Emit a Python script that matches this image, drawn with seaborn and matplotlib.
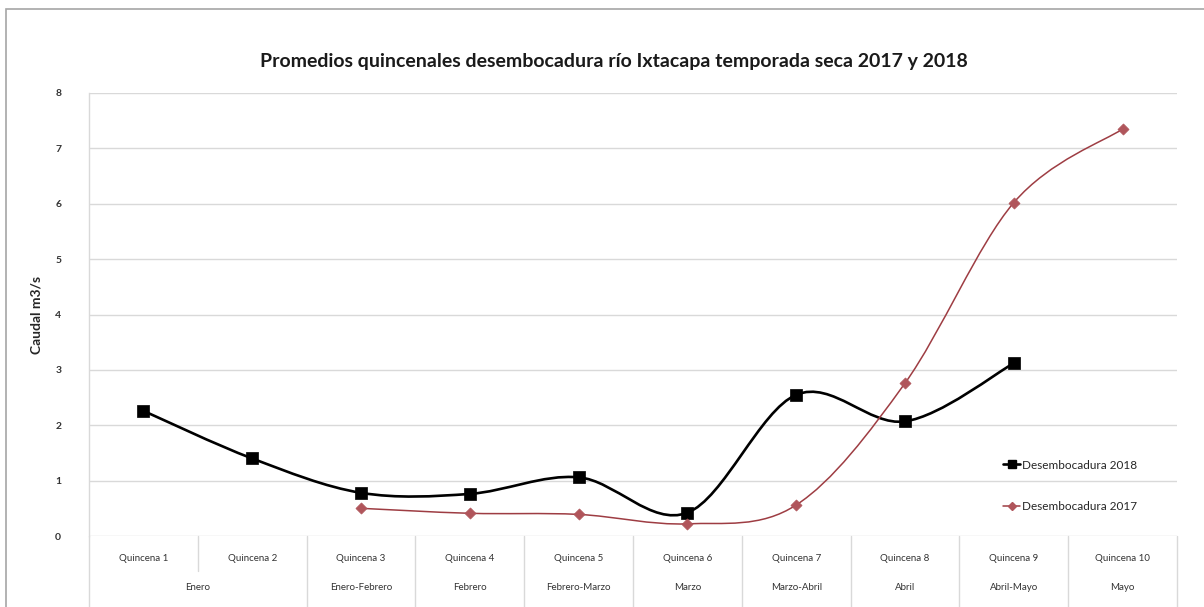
import numpy as np
import pandas as pd
import matplotlib
matplotlib.use('Agg')
import matplotlib.pyplot as plt
import seaborn as sns
from matplotlib.path import Path
from matplotlib.patches import PathPatch, Rectangle
from matplotlib.lines import Line2D
import matplotlib.transforms as mtransforms

# data
quincenas = ['Quincena 1', 'Quincena 2', 'Quincena 3', 'Quincena 4', 'Quincena 5',
             'Quincena 6', 'Quincena 7', 'Quincena 8', 'Quincena 9', 'Quincena 10']
meses = ['Enero', 'Enero', 'Enero-Febrero', 'Febrero', 'Febrero-Marzo',
         'Marzo', 'Marzo-Abril', 'Abril', 'Abril-Mayo', 'Mayo']
caudal_2018 = [2.26, 1.40, 0.78, 0.76, 1.06, 0.42, 2.55, 2.07, 3.12, np.nan]
caudal_2017 = [np.nan, np.nan, 0.50, 0.41, 0.39, 0.22, 0.56, 2.76, 6.02, 7.35]

sns.set_theme(style='whitegrid')
plt.rcParams['font.family'] = ['Lato', 'DejaVu Sans']


def smooth_path(xs, ys):
    """Excel-like smoothed line: cubic bezier through every point"""
    pts = np.column_stack([xs, ys])
    n = len(pts)
    verts = [pts[0]]
    codes = [Path.MOVETO]
    for i in range(n - 1):
        p0 = pts[i - 1] if i > 0 else pts[i]
        p1, p2 = pts[i], pts[i + 1]
        p3 = pts[i + 2] if i + 2 < n else pts[i + 1]
        verts += [p1 + (p2 - p0) / 6, p2 - (p3 - p1) / 6, p2]
        codes += [Path.CURVE4] * 3
    return Path(verts, codes)


df = pd.DataFrame({'x': np.arange(len(quincenas)), 'q': quincenas, 'mes': meses,
                   'd2018': caudal_2018, 'd2017': caudal_2017})

fig = plt.figure(figsize=(12.04, 6.07), dpi=100)
fig.patch.set_facecolor('white')
fig.patches.append(Rectangle((6 / 1204, -0.1), 1.2, 1 - 9 / 607 + 0.1, transform=fig.transFigure,
                             fill=False, edgecolor='#a6a6a6', linewidth=1.2))
ax = fig.add_axes([89 / 1204, 1 - 536 / 607, (1177 - 89) / 1204, (536 - 93) / 607])

c18 = 'black'
c17 = '#9e3d43'
m17 = '#b0555b'
for col, color, mcol, lw, mk, ms in [('d2018', c18, c18, 1.9, 's', 85), ('d2017', c17, m17, 1.1, 'D', 32)]:
    sub = df.dropna(subset=[col])
    ax.add_patch(PathPatch(smooth_path(sub['x'].values, sub[col].values), fill=False,
                           edgecolor=color, linewidth=lw, zorder=3))
    sns.scatterplot(data=sub, x='x', y=col, marker=mk, s=ms, color=mcol,
                    edgecolor=mcol, linewidth=0.5, ax=ax, zorder=4)

ax.set_xlim(-0.5, 9.5)
ax.set_ylim(0, 8)
ax.set_yticks(range(0, 9))
ax.set_xticks([])
ax.set_xlabel('')
ax.set_ylabel('Caudal m3/s', fontsize=10, fontweight='bold', labelpad=9, color='#262626')
ax.tick_params(axis='y', labelsize=7.5, pad=14, colors='#333333')
for t in ax.get_yticklabels():
    t.set_fontweight('bold')
ax.grid(axis='y', color='#d9d9d9', linewidth=1)
ax.grid(axis='x', visible=False)
for s in ['top', 'right', 'bottom']:
    ax.spines[s].set_visible(False)
ax.spines['left'].set_color('#d9d9d9')
ax.spines['left'].set_linewidth(1)

# two level category axis
trans = mtransforms.blended_transform_factory(ax.transData, ax.transAxes)
for i, q in enumerate(quincenas):
    ax.text(i, -0.05, q, transform=trans, ha='center', va='center', fontsize=7, color='#333333')
group_start = 0
for i in range(len(meses)):
    if i == len(meses) - 1 or meses[i + 1] != meses[i]:
        ax.text((group_start + i) / 2, -0.117, meses[i], transform=trans, ha='center', va='center',
                fontsize=7, color='#333333')
        group_start = i + 1
for i in range(len(meses) + 1):
    same = 0 < i < len(meses) and meses[i] == meses[i - 1]
    ax.plot([i - 0.5, i - 0.5], [0, -0.078 if same else -0.17], transform=trans, color='#d9d9d9',
            linewidth=1, clip_on=False)

fig.text(614 / 1204, 1 - 62 / 607, 'Promedios quincenales desembocadura río Ixtacapa temporada seca 2017 y 2018',
         ha='center', va='center', fontsize=14, fontweight='bold', color='#1a1a1a')

handles = [Line2D([], [], color=c18, lw=1.9, marker='s', markersize=6),
           Line2D([], [], color=c17, lw=1.1, marker='D', markersize=4.5, markerfacecolor=m17,
                  markeredgecolor=m17)]
ax.legend(handles, ['Desembocadura 2018', 'Desembocadura 2017'], loc='center left',
          bbox_to_anchor=(0.83, 0.113), frameon=False, fontsize=8.5, handlelength=1.5,
          handletextpad=0.15, labelspacing=2.6)

fig.savefig('out.png', dpi=100)
